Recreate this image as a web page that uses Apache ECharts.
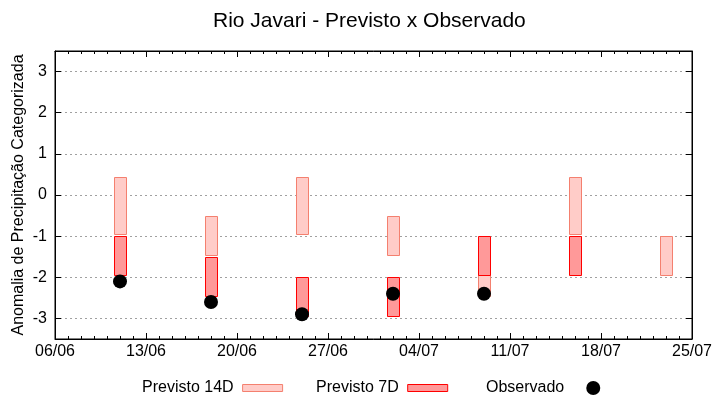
<!DOCTYPE html>
<html>
<head>
<meta charset="utf-8">
<script src="https://cdn.jsdelivr.net/npm/echarts@6/dist/echarts.min.js"></script>
<style>html,body{margin:0;padding:0;background:#fff}#c{width:720px;height:400px}</style>
</head>
<body>
<div id="c"></div>
<script>
// ---- data ----
const startDate = '06/06';
const tickLabels = ['06/06','13/06','20/06','27/06','04/07','11/07','18/07','25/07'];
const yTicks = [-3,-2,-1,0,1,2,3];
const dates = ['11/06','18/06','25/06','02/07','09/07','16/07','23/07'];
const p14Low  = [-0.95,-1.45,-0.95,-1.45,-2.45,-0.95,-1.95];
const p14High = [0.44,-0.5,0.44,-0.5,-1.5,0.44,-1.0];
const p7Low   = [-1.95,-2.45,-2.95,-2.95,-1.95,-1.95,null];
const p7High  = [-1.0,-1.5,-2.0,-2.0,-1.0,-1.0,null];
const obs     = [-2.1,-2.6,-2.9,-2.4,-2.4,null,null];

function dayNum(s){const [d,m]=s.split('/').map(Number);return Date.UTC(2023,m-1,d)/86400000;}
const x0 = dayNum(startDate);
const xs = dates.map(d => dayNum(d) - x0);
const xMax = dayNum(tickLabels[tickLabels.length-1]) - x0;

const box14 = [], box7 = [], obsPts = [];
xs.forEach((x,i)=>{
  if (p14Low[i]!=null) box14.push([x,p14Low[i],p14High[i]]);
  if (p7Low[i]!=null) box7.push([x,p7Low[i],p7High[i]]);
  if (obs[i]!=null) obsPts.push([x,obs[i]]);
});

const C14F='#ffccc8', C14B='#f4806f', C7F='#ff9999', C7B='#ff0000';
const HALF = 0.47;
function boxRenderer(fill, stroke){
  return function(params, api){
    const x=api.value(0), lo=api.value(1), hi=api.value(2);
    const p1=api.coord([x-HALF,hi]), p2=api.coord([x+HALF,lo]);
    return {type:'rect', shape:{x:Math.round(p1[0])+0.5,y:Math.round(p1[1])+0.5,width:Math.round(p2[0]-p1[0]),height:Math.round(p2[1]-p1[1])},
      style:{fill:fill, stroke:stroke, lineWidth:1}};
  };
}
const FONT='Liberation Sans';
const FS=16;
const chart = echarts.init(document.getElementById('c'));
chart.setOption({
  animation:false,
  backgroundColor:'#fff',
  textStyle:{fontFamily:FONT},
  title:{text:'Rio Javari - Previsto x Observado', left:208, top:6,
    textStyle:{fontFamily:FONT,fontSize:21,fontWeight:'normal',color:'#000'}},
  grid:{left:55,right:28,top:51,bottom:61,show:true,borderColor:'#000',borderWidth:1,backgroundColor:'transparent'},
  legend:[
    {data:[{name:'Previsto 14D',icon:'rect'}],left:137,top:375,align:'right',itemWidth:40,itemHeight:7,
      itemStyle:{color:C14F,borderColor:C14B,borderWidth:1},
      textStyle:{fontFamily:FONT,fontSize:FS,color:'#000',padding:[0,4,0,0]}},
    {data:[{name:'Previsto 7D',icon:'rect'}],left:311,top:375,align:'right',itemWidth:40,itemHeight:7,
      itemStyle:{color:C7F,borderColor:C7B,borderWidth:1},
      textStyle:{fontFamily:FONT,fontSize:FS,color:'#000',padding:[0,4,0,0]}},
    {data:[{name:'Observado',icon:'circle'}],left:481,top:375,align:'right',itemWidth:40,itemHeight:14,
      itemStyle:{color:'#000',opacity:1},
      textStyle:{fontFamily:FONT,fontSize:FS,color:'#000',padding:[0,4,0,0]}}
  ],
  xAxis:[
    {type:'value',min:0,max:xMax,interval:7,position:'bottom',
      axisLine:{show:true,onZero:false,lineStyle:{color:'#000'}},
      axisTick:{show:true,inside:true,length:6,lineStyle:{color:'#000'}},
      minorTick:{show:true,splitNumber:7,length:3,lineStyle:{color:'#000'}},
      splitLine:{show:false},
      axisLabel:{fontFamily:FONT,fontSize:FS,color:'#000',margin:5,formatter:v=>tickLabels[Math.round(v/7)]||''}},
    {type:'value',min:0,max:xMax,interval:7,position:'top',
      axisLine:{show:true,onZero:false,lineStyle:{color:'#000'}},
      axisTick:{show:true,inside:true,length:6,lineStyle:{color:'#000'}},
      minorTick:{show:true,splitNumber:7,length:3,lineStyle:{color:'#000'}},
      splitLine:{show:false},axisLabel:{show:false}}
  ],
  yAxis:[
    {type:'value',min:-3.5,max:3.5,splitNumber:7,position:'left',
      name:'Anomalia de Precipitação Categorizada',nameLocation:'middle',nameGap:28,nameRotate:90,
      nameMoveOverlap:false,
      nameTextStyle:{fontFamily:FONT,fontSize:FS,color:'#000'},
      axisLine:{show:true,onZero:false,lineStyle:{color:'#000'}},
      axisTick:{show:true,inside:true,length:6,lineStyle:{color:'#000'},customValues:yTicks},
      axisLabel:{fontFamily:FONT,fontSize:FS,color:'#000',margin:8,customValues:yTicks,formatter:v=>String(v)},
      splitLine:{show:true,lineStyle:{color:'#a0a0a0',type:[2,3],width:1}}},
    {type:'value',min:-3.5,max:3.5,splitNumber:7,position:'right',
      axisLine:{show:true,onZero:false,lineStyle:{color:'#000'}},
      axisTick:{show:true,inside:true,length:6,lineStyle:{color:'#000'},customValues:yTicks},
      axisLabel:{show:false},splitLine:{show:false}}
  ],
  series:[
    {name:'Previsto 14D',type:'custom',xAxisIndex:0,yAxisIndex:0,z:2,
      renderItem:boxRenderer(C14F,C14B),encode:{x:0,y:[1,2]},data:box14,
      itemStyle:{color:C14F,borderColor:C14B}},
    {name:'Previsto 7D',type:'custom',xAxisIndex:0,yAxisIndex:0,z:3,
      renderItem:boxRenderer(C7F,C7B),encode:{x:0,y:[1,2]},data:box7,
      itemStyle:{color:C7F,borderColor:C7B}},
    {name:'Observado',type:'scatter',xAxisIndex:0,yAxisIndex:0,z:4,symbol:'circle',symbolSize:14,
      itemStyle:{color:'#000',opacity:1},data:obsPts}
  ]
});
</script>
</body>
</html>
